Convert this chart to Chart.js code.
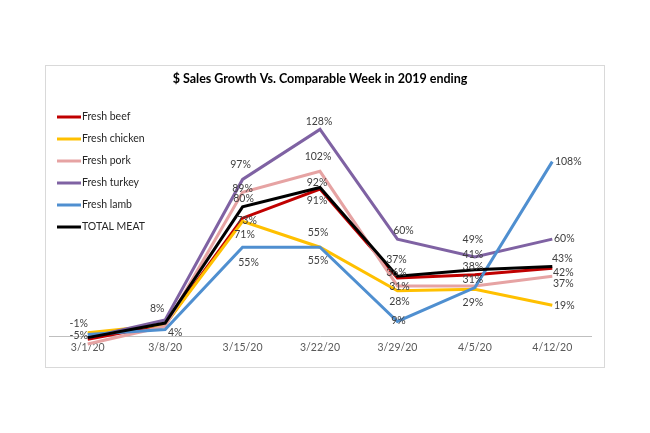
<!DOCTYPE html>
<html>
<head>
<meta charset="utf-8">
<script src="https://cdn.jsdelivr.net/npm/chart.js@4.4.1/dist/chart.umd.min.js"></script>
<style>
  html, body { margin: 0; padding: 0; background: #fff; }
  #wrap { width: 650px; height: 433px; }
</style>
</head>
<body>
<div id="wrap"><canvas id="salesChart" width="650" height="433"></canvas></div>
<script>
// weeks ending
const weeks = ['3/1/20', '3/8/20', '3/15/20', '3/22/20', '3/29/20', '4/5/20', '4/12/20'];

// $ sales growth vs 2019, percent
const freshBeef    = [-2, 7, 73, 91, 36, 38, 42];
const freshChicken = [2, 7, 71, 55, 28, 29, 19];
const freshPork    = [-5, 6, 89, 102, 31, 31, 37];
const freshTurkey  = [-1, 10, 97, 128, 60, 49, 60];
const freshLamb    = [1, 4, 55, 55, 9, 30, 108];
const totalMeat    = [-1, 8, 80, 92, 37, 41, 43];

// where each value label sits relative to its point (null = no label)
const beefLabels    = [null, null, [4, 2], [-3, 12], [-1, -5], [-2, -8], [11, 4]];
const chickenLabels = [null, null, [2, 13], [-2, -15], [2, 11], [-2, 13], [12, 0]];
const porkLabels    = [[-9, -8], null, [0, -4], [-2, -15], [2, 1], [-2, -6], [11, 7]];
const turkeyLabels  = [null, null, [-2, -15], [-1, -8], [6, -9], [-2, -17], [12, -1]];
const lambLabels    = [null, [10, 3], [6, 15], [-2, 13], [1, -1], null, [16, 0]];
const totalLabels   = [[-9, -14], [-8, -14], [1, -8], [-3, -5], [-1, -17], [-2, -15], [10, -8]];

const FONT = 'Lato, "Open Sans", sans-serif';

function series(label, data, color, labels, order) {
    return {
        label: label,
        data: data,
        borderColor: color,
        backgroundColor: color,
        borderWidth: 3,
        pointRadius: 0,
        tension: 0,
        clip: false,
        order: order,
        labelOffsets: labels
    };
}

const framePlugin = {
    id: 'frame',
    beforeDraw(chart) {
        const c = chart.ctx;
        c.save();
        c.fillStyle = '#fff';
        c.fillRect(0, 0, chart.width, chart.height);
        c.strokeStyle = '#d9d9d9';
        c.lineWidth = 1;
        c.strokeRect(45.5, 65.5, 559, 302);
        c.fillStyle = '#000';
        c.font = 'bold 12.5px ' + FONT;
        c.textAlign = 'center';
        c.textBaseline = 'middle';
        c.fillText('$ Sales Growth Vs. Comparable Week in 2019 ending', 320, 79);
        c.restore();
    }
};

const labelPlugin = {
    id: 'valueLabels',
    afterDatasetsDraw(chart) {
        const c = chart.ctx;
        c.save();
        c.font = '10.5px ' + FONT;
        c.fillStyle = '#404040';
        c.textAlign = 'center';
        c.textBaseline = 'middle';
        chart.data.datasets.forEach((ds, i) => {
            const meta = chart.getDatasetMeta(i);
            meta.data.forEach((pt, j) => {
                const off = ds.labelOffsets[j];
                if (!off) return;
                c.fillText(ds.data[j] + '%', pt.x + off[0], pt.y + off[1]);
            });
        });
        c.restore();
    }
};

const legendPlugin = {
    id: 'sideLegend',
    afterDraw(chart) {
        const c = chart.ctx;
        c.save();
        c.font = '10.5px ' + FONT;
        c.textBaseline = 'middle';
        chart.data.datasets.forEach((ds, i) => {
            const y = 117 + i * 22;
            c.strokeStyle = ds.borderColor;
            c.lineWidth = 3;
            c.beginPath();
            c.moveTo(57, y);
            c.lineTo(81, y);
            c.stroke();
            c.fillStyle = '#262626';
            c.fillText(ds.label, 82, y);
        });
        c.restore();
    }
};

new Chart(document.getElementById('salesChart').getContext('2d'), {
    type: 'line',
    data: {
        labels: weeks,
        datasets: [
            series('Fresh beef', freshBeef, '#c00000', beefLabels, 6),
            series('Fresh chicken', freshChicken, '#ffc000', chickenLabels, 5),
            series('Fresh pork', freshPork, '#e6a3a3', porkLabels, 4),
            series('Fresh turkey', freshTurkey, '#7f62a3', turkeyLabels, 3),
            series('Fresh lamb', freshLamb, '#4f8fd0', lambLabels, 2),
            series('TOTAL MEAT', totalMeat, '#000000', totalLabels, 1)
        ]
    },
    options: {
        responsive: false,
        animation: false,
        layout: { padding: { left: 49, right: 59, top: 110, bottom: 67 } },
        plugins: {
            legend: { display: false },
            title: { display: false },
            tooltip: { enabled: false }
        },
        scales: {
            x: {
                offset: true,
                grid: { display: false, drawTicks: false },
                border: { display: true, color: '#bfbfbf', width: 1 },
                ticks: {
                    autoSkip: false,
                    maxRotation: 0,
                    padding: 5,
                    color: '#595959',
                    font: { family: FONT, size: 10.5 }
                },
                afterFit(scale) { scale.height = 30; }
            },
            y: {
                display: false,
                min: 0,
                max: 140
            }
        }
    },
    plugins: [framePlugin, labelPlugin, legendPlugin]
});
</script>
</body>
</html>
